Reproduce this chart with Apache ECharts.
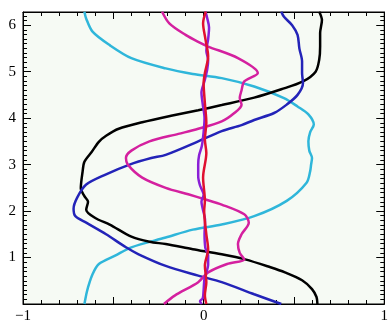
<!DOCTYPE html>
<html>
<head>
<meta charset="utf-8">
<script src="https://cdn.jsdelivr.net/npm/echarts@6/dist/echarts.min.js"></script>
<style>html,body{margin:0;padding:0;background:#fff;}#c{width:391px;height:324px;}</style>
</head>
<body>
<div id="c"></div>
<script>
// Data: each curve as [x, y] pairs (x as a function of y)
const xTickLabels = {'-1': '\u22121', '0': '0', '1': '1'};
const yTickLabels = [1, 2, 3, 4, 5, 6];

const black = [[0.63,0],[0.625,0.15],[0.60,0.32],[0.545,0.51],[0.45,0.68],[0.37,0.79],[0.23,0.96],[0.10,1.07],[-0.06,1.18],[-0.21,1.29],[-0.30,1.34],[-0.40,1.45],[-0.52,1.71],[-0.60,1.85],[-0.65,2.03],[-0.64,2.2],[-0.66,2.32],[-0.68,2.49],[-0.67,2.85],[-0.66,3.06],[-0.62,3.27],[-0.58,3.49],[-0.54,3.62],[-0.47,3.77],[-0.34,3.91],[-0.18,4.05],[-0.03,4.17],[0.10,4.28],[0.28,4.44],[0.43,4.62],[0.55,4.79],[0.62,5.0],[0.64,5.26],[0.645,5.54],[0.645,5.83],[0.655,6.11],[0.64,6.29]];

const blue = [[0.43,0],[0.28,0.21],[0.10,0.47],[-0.03,0.61],[-0.21,0.82],[-0.36,1.07],[-0.43,1.22],[-0.54,1.50],[-0.65,1.75],[-0.71,1.89],[-0.72,2.05],[-0.70,2.29],[-0.65,2.57],[-0.54,2.79],[-0.41,3.0],[-0.29,3.14],[-0.21,3.21],[-0.03,3.50],[0.10,3.72],[0.21,3.85],[0.28,3.96],[0.39,4.11],[0.46,4.29],[0.52,4.50],[0.55,4.75],[0.545,4.97],[0.545,5.22],[0.53,5.50],[0.52,5.79],[0.49,6.0],[0.445,6.18],[0.43,6.29]];

const cyan = [[-0.66,0],[-0.65,0.2],[-0.64,0.36],[-0.615,0.64],[-0.58,0.86],[-0.49,1.04],[-0.40,1.22],[-0.21,1.43],[-0.06,1.6],[0.10,1.71],[0.28,1.89],[0.46,2.22],[0.57,2.61],[0.59,2.86],[0.595,3.0],[0.60,3.14],[0.585,3.3],[0.58,3.5],[0.59,3.7],[0.61,3.86],[0.58,4.08],[0.52,4.25],[0.445,4.43],[0.28,4.68],[0.10,4.86],[-0.06,4.95],[-0.21,5.07],[-0.40,5.29],[-0.52,5.57],[-0.615,5.86],[-0.65,6.14],[-0.66,6.29]];

const magenta = [[-0.22,0],[-0.16,0.18],[-0.03,0.47],[0.025,0.68],[0.13,0.86],[0.225,0.96],[0.20,1.1],[0.19,1.29],[0.21,1.50],[0.25,1.75],[0.225,1.93],[0.10,2.14],[0.01,2.25],[-0.085,2.36],[-0.21,2.50],[-0.34,2.72],[-0.42,3.0],[-0.43,3.14],[-0.40,3.30],[-0.30,3.50],[-0.14,3.66],[-0.03,3.77],[0.10,3.93],[0.17,4.11],[0.21,4.29],[0.20,4.43],[0.21,4.6],[0.225,4.79],[0.30,4.97],[0.19,5.29],[0.025,5.54],[-0.03,5.64],[-0.10,5.79],[-0.19,6.04],[-0.23,6.29]];

const purple = [[-0.01,0],[-0.02,0.06],[-0.005,0.12],[0.0,0.3],[0.005,0.55],[0.025,0.85],[0.025,1.05],[0.01,1.2],[0.005,1.5],[0.008,1.8],[-0.005,2.05],[-0.012,2.2],[0.0,2.35],[-0.02,2.55],[-0.03,2.75],[-0.03,3.0],[-0.025,3.2],[-0.01,3.4],[0.0,3.7],[0.005,4.0],[-0.005,4.3],[-0.012,4.55],[0.005,4.8],[0.02,5.05],[0.025,5.25],[0.015,5.45],[0.025,5.7],[0.03,5.95],[0.02,6.15],[0.01,6.29]];

const red = [[0.015,0],[0.007,0.19],[0.015,0.47],[0.007,0.83],[0.025,1.18],[0.015,1.5],[0.003,2.0],[0.007,2.22],[-0.003,2.72],[0.015,3.25],[0.007,3.54],[0.015,3.9],[0.007,4.32],[0.0,4.75],[0.007,4.97],[0.025,5.33],[0.01,5.7],[-0.003,6.04],[0.012,6.29]];

const seriesDefs = [
  {name: 'cyan', data: cyan, color: '#2fb6da'},
  {name: 'black', data: black, color: '#000000'},
  {name: 'blue', data: blue, color: '#2323b8'},
  {name: 'magenta', data: magenta, color: '#d4209f'},
  {name: 'purple', data: purple, color: '#8a1fd6'},
  {name: 'red', data: red, color: '#e01030'}
];

const font = {fontFamily: 'Liberation Serif', fontSize: 15, color: '#000'};

function xAxisCfg(pos, showLabel) {
  return {
    type: 'value', position: pos, min: -1, max: 1, interval: 0.5,
    axisLine: {show: true, onZero: false, lineStyle: {color: '#000', width: 1}},
    axisTick: {show: true, inside: true, length: 7, lineStyle: {color: '#000'}},
    minorTick: {show: true, splitNumber: 5, length: 4, lineStyle: {color: '#000'}},
    splitLine: {show: false},
    axisLabel: Object.assign({show: showLabel, margin: 5,
      formatter: v => { const k = String(Math.round(v * 100) / 100); return xTickLabels[k] !== undefined ? xTickLabels[k] : ''; }}, font)
  };
}
function yAxisCfg(pos, showLabel) {
  return {
    type: 'value', position: pos, min: 0, max: 2 * Math.PI, interval: 1,
    axisLine: {show: true, onZero: false, lineStyle: {color: '#000', width: 1}},
    axisTick: {show: true, inside: true, length: 8, lineStyle: {color: '#000'}},
    minorTick: {show: true, splitNumber: 10, length: 4, lineStyle: {color: '#000'}},
    splitLine: {show: false},
    axisLabel: Object.assign({show: showLabel, margin: 7, showMaxLabel: false,
      formatter: v => yTickLabels.indexOf(Math.round(v * 1000) / 1000) >= 0 ? String(v) : ''}, font)
  };
}

const chart = echarts.init(document.getElementById('c'), null, {renderer: 'canvas'});
chart.setOption({
  backgroundColor: '#ffffff',
  animation: false,
  grid: {left: 23, right: 3, top: 12, bottom: 17, show: true, backgroundColor: '#f6faf4', borderColor: '#000', borderWidth: 1},
  xAxis: [xAxisCfg('bottom', true), xAxisCfg('top', false)],
  yAxis: [yAxisCfg('left', true), yAxisCfg('right', false)],
  series: seriesDefs.map(s => ({
    type: 'line', name: s.name, data: s.data, xAxisIndex: 0, yAxisIndex: 0,
    showSymbol: false, symbol: 'none', smooth: 0.3,
    lineStyle: {color: s.color, width: 2.5}
  }))
});
</script>
</body>
</html>
